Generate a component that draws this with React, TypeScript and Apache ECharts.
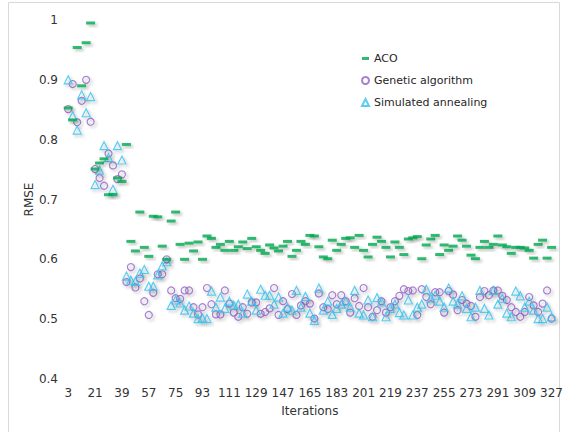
import React, { useEffect, useRef } from "react";
import * as echarts from "echarts";

const iterations: string[] = Array.from({ length: 109 }, (_, i) => String(3 + i * 3));

const acoValues: number[] = [
  0.853, 0.833, 0.954, 0.89, 0.962, 0.995, 0.751, 0.761, 0.768, 0.708,
  0.708, 0.736, 0.73, 0.792, 0.63, 0.614, 0.679, 0.62, 0.605, 0.672,
  0.671, 0.622, 0.6, 0.664, 0.679, 0.625, 0.6, 0.627, 0.614, 0.629,
  0.6, 0.639, 0.635, 0.62, 0.625, 0.615, 0.63, 0.615, 0.621, 0.629,
  0.618, 0.635, 0.621, 0.615, 0.61, 0.624, 0.619, 0.614, 0.622, 0.63,
  0.605, 0.615, 0.63, 0.625, 0.64, 0.639, 0.621, 0.604, 0.601, 0.632,
  0.615, 0.625, 0.635, 0.636, 0.62, 0.64, 0.615, 0.604, 0.625, 0.637,
  0.63, 0.62, 0.604, 0.629, 0.62, 0.608, 0.634, 0.636, 0.638, 0.601,
  0.624, 0.634, 0.64, 0.608, 0.624, 0.615, 0.622, 0.639, 0.632, 0.622,
  0.607, 0.601, 0.62, 0.63, 0.62, 0.625, 0.639, 0.624, 0.621, 0.61,
  0.62, 0.62, 0.619, 0.615, 0.602, 0.625, 0.632, 0.602, 0.62,
];

const gaValues: number[] = [
  0.851, 0.893, 0.829, 0.865, 0.9, 0.83, 0.751, 0.736, 0.723, 0.777,
  0.757, 0.734, 0.742, 0.562, 0.587, 0.553, 0.568, 0.53, 0.507, 0.544,
  0.575, 0.575, 0.6, 0.548, 0.535, 0.534, 0.548, 0.548, 0.52, 0.508,
  0.52, 0.552, 0.525, 0.508, 0.508, 0.548, 0.526, 0.511, 0.504, 0.52,
  0.509, 0.528, 0.528, 0.509, 0.512, 0.518, 0.552, 0.507, 0.53, 0.517,
  0.542, 0.507, 0.523, 0.53, 0.526, 0.501, 0.543, 0.52, 0.517, 0.54,
  0.525, 0.54, 0.53, 0.511, 0.535, 0.522, 0.552, 0.52, 0.504, 0.515,
  0.53, 0.511, 0.52, 0.53, 0.539, 0.55, 0.547, 0.548, 0.507, 0.55,
  0.537, 0.525, 0.545, 0.545, 0.511, 0.547, 0.541, 0.515, 0.532, 0.526,
  0.522, 0.504, 0.537, 0.547, 0.54, 0.548, 0.548, 0.539, 0.532, 0.52,
  0.512, 0.504, 0.512, 0.537, 0.523, 0.512, 0.526, 0.548, 0.501,
];

const saValues: number[] = [
  0.9, 0.84, 0.816, 0.875, 0.845, 0.872, 0.725, 0.749, 0.79, 0.77,
  0.717, 0.79, 0.766, 0.572, 0.565, 0.563, 0.577, 0.583, 0.555, 0.555,
  0.574, 0.589, 0.596, 0.523, 0.532, 0.527, 0.515, 0.522, 0.51, 0.501,
  0.502, 0.501, 0.547, 0.52, 0.537, 0.518, 0.53, 0.523, 0.525, 0.51,
  0.542, 0.53, 0.515, 0.55, 0.54, 0.54, 0.525, 0.537, 0.51, 0.52,
  0.515, 0.548, 0.52, 0.538, 0.51, 0.498, 0.552, 0.515, 0.53, 0.508,
  0.518, 0.525, 0.53, 0.52, 0.548, 0.51, 0.507, 0.532, 0.504, 0.536,
  0.529, 0.504, 0.518, 0.525, 0.511, 0.507, 0.532, 0.507, 0.52, 0.525,
  0.55, 0.535, 0.54, 0.53, 0.52, 0.552, 0.53, 0.525, 0.539, 0.518,
  0.504, 0.52, 0.548, 0.518, 0.507, 0.548, 0.525, 0.535, 0.51, 0.504,
  0.547, 0.539, 0.52, 0.53, 0.515, 0.501, 0.501, 0.52, 0.504,
];

const yTicks = { min: 0.4, max: 1, interval: 0.1 };

const FONT = "DejaVu Sans";
const shadow = {
  shadowColor: "rgba(0,0,0,0.3)",
  shadowBlur: 3,
  shadowOffsetX: 2,
  shadowOffsetY: 2,
};

export default function App() {
  const ref = useRef<HTMLDivElement>(null);
  useEffect(() => {
    document.body.style.margin = "0";
    const chart = echarts.init(ref.current!, undefined, { renderer: "svg" });
    chart.setOption({
      animation: false,
      backgroundColor: "#ffffff",
      graphic: [
        {
          type: "rect",
          shape: { x: 8.5, y: 2.5, width: 551, height: 440 },
          style: { fill: "none", stroke: "#d9d9d9", lineWidth: 1 },
          silent: true,
          z: -1,
        },
      ],
      grid: { left: 66, right: 12, top: 20, bottom: 53, containLabel: false },
      legend: {
        orient: "vertical",
        left: 356,
        top: 47,
        itemWidth: 7,
        itemHeight: 7,
        itemGap: 9,
        symbolKeepAspect: true,
        textStyle: { fontFamily: FONT, fontSize: 11, color: "#262626", lineHeight: 13 },
        data: [
          { name: "ACO", icon: "path://M0,0h7v3h-7z" },
          { name: "Genetic algorithm" },
          { name: "Simulated annealing" },
        ],
      },
      xAxis: {
        type: "category",
        data: iterations,
        boundaryGap: true,
        name: "Iterations",
        nameLocation: "middle",
        nameGap: 26,
        nameMoveOverlap: false,
        nameTextStyle: { fontFamily: FONT, fontSize: 12, color: "#333" },
        axisLine: { show: false },
        axisTick: { show: false },
        axisLabel: {
          interval: 5,
          fontFamily: FONT,
          fontSize: 12,
          color: "#333",
          margin: 8,
        },
        splitLine: { show: false },
      },
      yAxis: {
        type: "value",
        min: yTicks.min,
        max: yTicks.max,
        interval: yTicks.interval,
        name: "RMSE",
        nameLocation: "middle",
        nameGap: 31,
        nameMoveOverlap: false,
        nameTextStyle: { fontFamily: FONT, fontSize: 12, color: "#333" },
        axisLine: { show: false },
        axisTick: { show: false },
        splitLine: { show: false },
        axisLabel: {
          fontFamily: FONT,
          fontSize: 12,
          color: "#333",
          margin: 8,
          formatter: (v: number) => String(Math.round(v * 10) / 10),
        },
      },
      series: [
        {
          name: "ACO",
          type: "scatter",
          data: acoValues,
          symbol: "rect",
          symbolSize: [9, 3],
          itemStyle: { color: "#00a94f", ...shadow },
          z: 3,
        },
        {
          name: "Genetic algorithm",
          type: "scatter",
          data: gaValues,
          symbol: "circle",
          symbolSize: 7,
          itemStyle: {
            color: "rgba(255,255,255,0)",
            borderColor: "#9460c8",
            borderWidth: 1.2,
            ...shadow,
          },
          z: 2,
        },
        {
          name: "Simulated annealing",
          type: "scatter",
          data: saValues,
          symbol: "triangle",
          symbolSize: 8,
          itemStyle: {
            color: "rgba(255,255,255,0)",
            borderColor: "#31c0ef",
            borderWidth: 1.2,
            ...shadow,
          },
          z: 2,
        },
      ],
    });
    return () => chart.dispose();
  }, []);
  return <div ref={ref} style={{ width: 566, height: 432, position: "absolute", left: 0, top: 0 }} />;
}
